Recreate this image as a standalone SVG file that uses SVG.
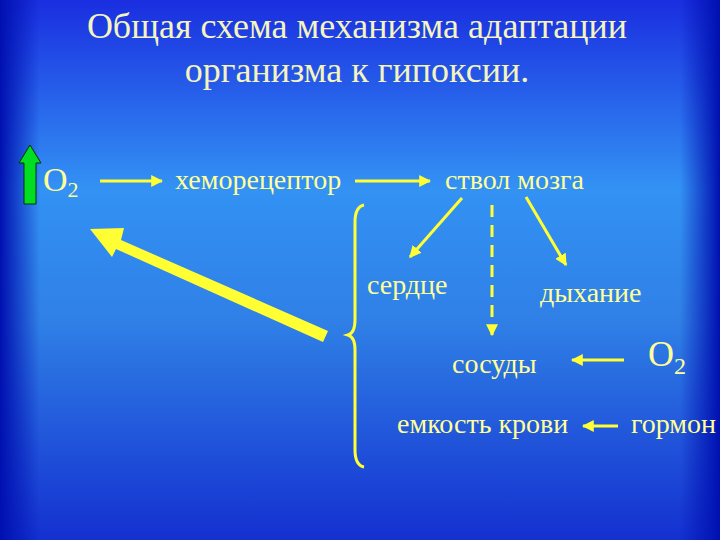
<svg xmlns="http://www.w3.org/2000/svg" width="720" height="540" viewBox="0 0 720 540">
<defs>
<linearGradient id="bg" x1="0" y1="0" x2="0" y2="1">
<stop offset="0" stop-color="#1a2ee0"/>
<stop offset="0.35" stop-color="#3392f4"/>
<stop offset="0.6" stop-color="#2f7fe6"/>
<stop offset="1" stop-color="#1430d0"/>
</linearGradient>
<linearGradient id="edgeL" x1="0" y1="0" x2="1" y2="0">
<stop offset="0" stop-color="#0010b0" stop-opacity="1"/>
<stop offset="1" stop-color="#0010b0" stop-opacity="0"/>
</linearGradient>
<linearGradient id="edgeR" x1="1" y1="0" x2="0" y2="0">
<stop offset="0" stop-color="#0010b0" stop-opacity="1"/>
<stop offset="1" stop-color="#0010b0" stop-opacity="0"/>
</linearGradient>
<marker id="ah" viewBox="0 0 10 10" refX="9" refY="5" markerWidth="4" markerHeight="4" orient="auto" markerUnits="strokeWidth">
<path d="M0,0 L10,5 L0,10 z" fill="#ffff33"/>
</marker>
</defs>
<style>
text{font-family:'Liberation Serif','Times New Roman',Tinos,'DejaVu Serif',serif}
.t{fill:#ffff99;font-size:28px}
.h{fill:#f4f4c0;font-size:36px;text-anchor:middle}
.c{stroke:#ffff33;stroke-width:3;fill:none}
</style>
<rect width="720" height="540" fill="url(#bg)"/>
<rect x="0" y="0" width="40" height="540" fill="url(#edgeL)"/>
<rect x="680" y="0" width="40" height="540" fill="url(#edgeR)"/>
<g id="title">
<text class="h" x="357" y="38">Общая схема механизма адаптации</text>
<text class="h" x="357" y="82">организма к гипоксии.</text>
</g>
<g id="o2up">
<path d="M24,204 V163 H19 L30,145 L41,163 H36 V204 Z" fill="#00dd22" stroke="#003300" stroke-width="1"/>
<text class="t" x="43" y="191" style="font-size:34px">O<tspan style="font-size:22px" dy="6">2</tspan></text>
</g>
<g id="chemo"><text class="t" x="175" y="189">хеморецептор</text></g>
<g id="stem"><text class="t" x="445" y="189">ствол мозга</text></g>
<g id="heart"><text class="t" x="367" y="294">сердце</text></g>
<g id="breath"><text class="t" x="540" y="302">дыхание</text></g>
<g id="vessels"><text class="t" x="452" y="373">сосуды</text></g>
<g id="o2r"><text class="t" x="648" y="366" style="font-size:36px">O<tspan style="font-size:24px" dy="8">2</tspan></text></g>
<g id="blood"><text class="t" x="397" y="433">емкость крови</text></g>
<g id="hormone"><text class="t" x="631" y="433">гормон</text></g>
<g id="brace"><path d="M364,205 Q355,207 355,222 V320 Q355,333 348,335 Q355,337 355,350 V450 Q355,465 364,467" class="c" stroke-width="2"/></g>
<g id="connectors">
<line class="c" x1="100" y1="181" x2="162" y2="181" marker-end="url(#ah)"/>
<line class="c" x1="355" y1="181" x2="430" y2="181" marker-end="url(#ah)"/>
<line class="c" x1="462" y1="198" x2="410" y2="257" marker-end="url(#ah)"/>
<line class="c" x1="492" y1="205" x2="492" y2="335" stroke-dasharray="12,8" stroke-width="4" marker-end="url(#ah)"/>
<line class="c" x1="526" y1="197" x2="566" y2="265" marker-end="url(#ah)"/>
<line class="c" x1="624" y1="360" x2="572" y2="360" stroke-width="4" marker-end="url(#ah)"/>
<line class="c" x1="618" y1="426" x2="583" y2="426" stroke-width="4" marker-end="url(#ah)"/>
<path d="M328,331 L121,240 L124,228 L90,229 L112,257 L116,249 L323,342 Z" fill="#ffff33"/>
</g>
</svg>
